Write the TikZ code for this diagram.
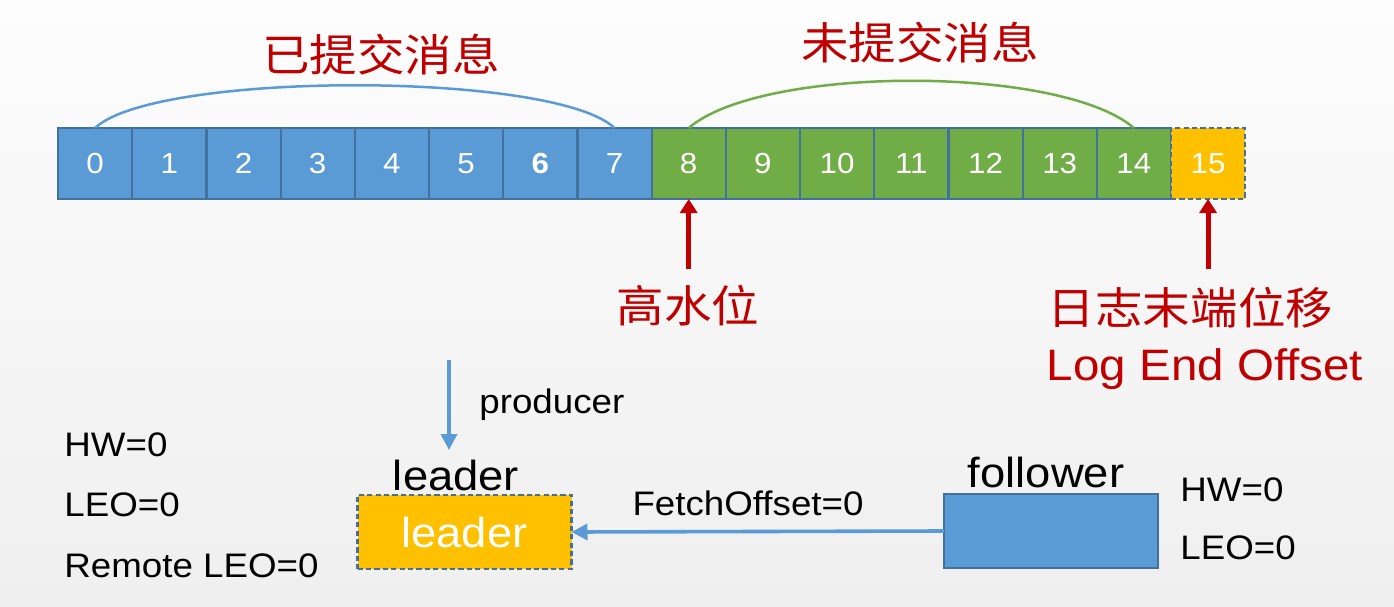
\documentclass[tikz,border=0pt]{standalone}
\usepackage{fontspec}
\setmainfont[FakeStretch=1.08]{Liberation Sans}
\newfontfamily\cjk[FakeStretch=1.08]{Noto Sans CJK SC}
\usetikzlibrary{arrows.meta}

\definecolor{cellblue}{HTML}{5B9BD5}
\definecolor{cellgreen}{HTML}{70AD47}
\definecolor{cellorange}{HTML}{FFC000}
\definecolor{cellline}{HTML}{41719C}
\definecolor{markred}{HTML}{C00000}
\definecolor{bgtop}{HTML}{FDFDFD}
\definecolor{bgbottom}{HTML}{EFEFEF}

\begin{document}
\begin{tikzpicture}[x=0.5pt,y=-0.5pt,
  cell/.style={draw=cellline, line width=1.1pt, minimum width=37.1pt,
    minimum height=35.5pt, inner sep=0pt, outer sep=0pt, text=white,
    font=\fontsize{14.5pt}{17pt}\selectfont},
  dashedline/.style={dash pattern=on 2.6pt off 1.6pt},
  redtitle/.style={text=markred, inner sep=0pt, font=\cjk\fontsize{22pt}{26pt}\selectfont},
  redlatin/.style={text=markred, inner sep=0pt, font=\fontsize{22pt}{26pt}\selectfont},
  bigtext/.style={inner sep=0pt, font=\fontsize{21pt}{25pt}\selectfont},
  smalltext/.style={inner sep=0pt, font=\fontsize{17pt}{20pt}\selectfont},
  redarrow/.style={draw=markred, line width=2.5pt, -{Triangle[length=7pt,width=8.5pt]}},
  bluearrow/.style={draw=cellblue, line width=1.8pt, -{Triangle[length=8pt,width=8pt]}},
  span/.style={line width=1.25pt},
  procbox/.style={minimum width=107pt, minimum height=37pt, inner sep=0pt, outer sep=0pt},
]
% background
\shade[top color=bgtop, bottom color=bgbottom] (0,0) rectangle (1394,606);
\useasboundingbox (0,0) rectangle (1394,606);

% log segments
\foreach \i/\f/\lbl in {0/cellblue/0,1/cellblue/1,2/cellblue/2,3/cellblue/3,
    4/cellblue/4,5/cellblue/5,6/cellblue/\textbf{6},7/cellblue/7,
    8/cellgreen/8,9/cellgreen/9,10/cellgreen/10,11/cellgreen/11,
    12/cellgreen/12,13/cellgreen/13,14/cellgreen/14}
  \node[cell, fill=\f] (c\i) at (95.1+74.2*\i,163.5) {\raisebox{-1pt}{\lbl}};
\node[cell, fill=cellorange, dashedline, line width=1.2pt] (c15) at (95.1+74.2*15,163.5) {\raisebox{-1pt}{15}};

% committed / uncommitted spans
\draw[span, draw=cellblue] (c0.north) .. controls +(60,-57) and +(-60,-57) .. (c7.north);
\draw[span, draw=cellgreen] (c8.north) .. controls +(73,-63) and +(-73,-63) .. (c14.north);
\node[redtitle] (committed) at (381,55) {已提交消息};
\node[redtitle] (uncommitted) at (920,42.5) {未提交消息};

% high watermark and log end offset
\node[redtitle] (hw) at (688,305.5) {高水位};
\node[redtitle] (leo) at (1190.5,307.5) {日志末端位移};
\node[redlatin, anchor=base] (leoen) at (1205,380) {Log End Offset};
\draw[redarrow] ([yshift=-35pt]c8.south) -- (c8.south);
\draw[redarrow] ([yshift=-35pt]c15.south) -- (c15.south);

% leader side
\node[smalltext, anchor=base west] (lhw) at (64,456) {HW=0};
\node[smalltext, anchor=base west] (lleo) at (64,516) {LEO=0};
\node[smalltext, anchor=base west] (lrleo) at (64,577) {Remote LEO=0};
\coordinate (prodtop) at (449,360);
\coordinate (prodtip) at (449,450);
\draw[bluearrow] (prodtop) -- (prodtip);
\node[smalltext, anchor=base west] (producer) at (479,413) {producer};
\node[bigtext, anchor=base] (leadertitle) at (456,490) {leader};
\node[procbox, fill=cellorange, draw=cellline, line width=1.1pt, dashedline,
  text=white, font=\fontsize{21pt}{25pt}\selectfont] (leader) at (464.5,532) {leader};

% follower side
\node[procbox, fill=cellblue, draw=cellline, line width=1pt] (follower) at (1051,531) {};
\node[bigtext, anchor=base] (followertitle) at (1046,487) {follower};
\node[smalltext, anchor=base west] (fhw) at (1180,501) {HW=0};
\node[smalltext, anchor=base west] (fleo) at (1180,559) {LEO=0};

% fetch request
\draw[bluearrow] (follower.west) -- (leader.east);
\node[smalltext, anchor=base] (fetch) at (748,515) {FetchOffset=0};
\end{tikzpicture}
\end{document}
